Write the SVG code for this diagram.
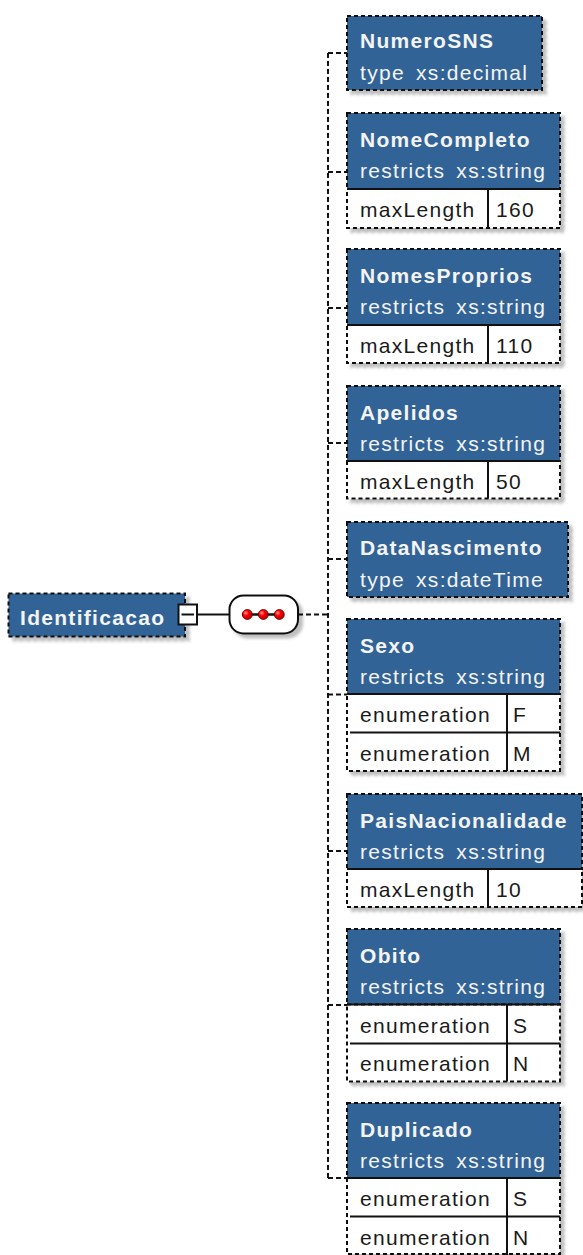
<svg xmlns="http://www.w3.org/2000/svg" width="583" height="1255" viewBox="0 0 583 1255">
<defs>
<style>
.hd{fill:#326496;stroke:#111;stroke-width:2;stroke-dasharray:4 3}
.tb{fill:#fff;stroke:#111;stroke-width:2;stroke-dasharray:4 3}
.sl{stroke:#111;stroke-width:2;fill:none}
.cn{stroke:#111;stroke-width:2;stroke-dasharray:5 3;fill:none}
.t1{font-family:"Liberation Sans",Arial,sans-serif;font-size:21px;font-weight:bold;fill:#f4f4f4;letter-spacing:1.3px}
.t2{font-family:"Liberation Sans",Arial,sans-serif;font-size:21px;fill:#f4f4f4;letter-spacing:1.3px;word-spacing:4px}
.t3{font-family:"Liberation Sans",Arial,sans-serif;font-size:21px;fill:#1a1a1a;letter-spacing:1.3px}
.dot{fill:url(#rd);stroke:#600;stroke-width:0.8}
</style>
<filter id="sh" x="-10%" y="-10%" width="130%" height="130%">
<feDropShadow dx="4" dy="4" stdDeviation="1.5" flood-color="#000" flood-opacity="0.25"/>
</filter>
<radialGradient id="rd" cx="0.35" cy="0.35" r="0.7">
<stop offset="0" stop-color="#ff9a9a"/>
<stop offset="0.4" stop-color="#ff0000"/>
<stop offset="1" stop-color="#b00000"/>
</radialGradient>
</defs>
<rect width="583" height="1255" fill="#fff"/>

<g id="connectors">
<line class="sl" x1="197" y1="614.5" x2="229.5" y2="614.5"/>
<line class="cn" x1="298" y1="614.5" x2="328" y2="614.5"/>
<line class="cn" x1="328" y1="53" x2="328" y2="1178"/>
<line class="cn" x1="328" y1="53" x2="347" y2="53"/>
<line class="cn" x1="328" y1="172" x2="347" y2="172"/>
<line class="cn" x1="328" y1="308" x2="347" y2="308"/>
<line class="cn" x1="328" y1="443" x2="347" y2="443"/>
<line class="cn" x1="328" y1="559" x2="347" y2="559"/>
<line class="cn" x1="328" y1="694.5" x2="347" y2="694.5"/>
<line class="cn" x1="328" y1="851" x2="347" y2="851"/>
<line class="cn" x1="328" y1="1005" x2="347" y2="1005"/>
<line class="cn" x1="328" y1="1178" x2="347" y2="1178"/>
</g>

<g id="Identificacao">
<rect class="hd" x="8.5" y="593.5" width="176.5" height="43" filter="url(#sh)"/>
<text class="t1" x="20" y="625">Identificacao</text>
<rect x="178.5" y="604.5" width="18.5" height="20" fill="#fff" stroke="#111" stroke-width="2"/>
<line class="sl" x1="181.5" y1="614.5" x2="194" y2="614.5"/>
</g>

<g id="sequence">
<rect x="229.5" y="595.5" width="68.5" height="38" rx="14" fill="#fff" stroke="#111" stroke-width="2" filter="url(#sh)"/>
<line x1="242" y1="614.5" x2="284" y2="614.5" stroke="#111" stroke-width="2.5"/>
<circle class="dot" cx="247.3" cy="614.5" r="5"/>
<circle class="dot" cx="263.3" cy="614.5" r="5"/>
<circle class="dot" cx="279.3" cy="614.5" r="5"/>
</g>

<g id="NumeroSNS" transform="translate(347,16)">
<rect class="hd" x="0" y="0" width="195" height="74" filter="url(#sh)"/>
<text class="t1" x="13" y="32">NumeroSNS</text>
<text class="t2" x="13" y="64">type xs:decimal</text>
</g>

<g id="NomeCompleto" transform="translate(347,113)">
<g filter="url(#sh)">
<rect class="hd" x="0" y="0" width="213" height="76"/>
<rect class="tb" x="0" y="76" width="213" height="39"/>
</g>
<line class="sl" x1="0" y1="76" x2="213" y2="76"/>
<line class="sl" x1="141" y1="76" x2="141" y2="115"/>
<text class="t1" x="13" y="33.5">NomeCompleto</text>
<text class="t2" x="13" y="65">restricts xs:string</text>
<text class="t3" x="13" y="104">maxLength</text>
<text class="t3" x="149" y="104">160</text>
</g>

<g id="NomesProprios" transform="translate(347,249)">
<g filter="url(#sh)">
<rect class="hd" x="0" y="0" width="213" height="76"/>
<rect class="tb" x="0" y="76" width="213" height="38"/>
</g>
<line class="sl" x1="0" y1="76" x2="213" y2="76"/>
<line class="sl" x1="141" y1="76" x2="141" y2="114"/>
<text class="t1" x="13" y="33.5">NomesProprios</text>
<text class="t2" x="13" y="65">restricts xs:string</text>
<text class="t3" x="13" y="104">maxLength</text>
<text class="t3" x="149" y="104">110</text>
</g>

<g id="Apelidos" transform="translate(347,386)">
<g filter="url(#sh)">
<rect class="hd" x="0" y="0" width="213" height="75"/>
<rect class="tb" x="0" y="75" width="213" height="37.5"/>
</g>
<line class="sl" x1="0" y1="75" x2="213" y2="75"/>
<line class="sl" x1="141" y1="75" x2="141" y2="112.5"/>
<text class="t1" x="13" y="33.5">Apelidos</text>
<text class="t2" x="13" y="65">restricts xs:string</text>
<text class="t3" x="13" y="103">maxLength</text>
<text class="t3" x="149" y="103">50</text>
</g>

<g id="DataNascimento" transform="translate(347,522)">
<rect class="hd" x="0" y="0" width="221" height="75" filter="url(#sh)"/>
<text class="t1" x="13" y="33">DataNascimento</text>
<text class="t2" x="13" y="64.5">type xs:dateTime</text>
</g>

<g id="Sexo" transform="translate(347,619)">
<g filter="url(#sh)">
<rect class="hd" x="0" y="0" width="213" height="75"/>
<rect class="tb" x="0" y="75" width="213" height="77"/>
</g>
<line class="sl" x1="0" y1="75" x2="213" y2="75"/>
<line class="sl" x1="3" y1="113.5" x2="213" y2="113.5"/>
<line class="sl" x1="160" y1="75" x2="160" y2="152"/>
<text class="t1" x="13" y="33.5">Sexo</text>
<text class="t2" x="13" y="65">restricts xs:string</text>
<text class="t3" x="13" y="103">enumeration</text>
<text class="t3" x="166" y="103">F</text>
<text class="t3" x="13" y="141.5">enumeration</text>
<text class="t3" x="166" y="141.5">M</text>
</g>

<g id="PaisNacionalidade" transform="translate(347,794)">
<g filter="url(#sh)">
<rect class="hd" x="0" y="0" width="235" height="75"/>
<rect class="tb" x="0" y="75" width="235" height="38"/>
</g>
<line class="sl" x1="0" y1="75" x2="235" y2="75"/>
<line class="sl" x1="141" y1="75" x2="141" y2="113"/>
<text class="t1" x="13" y="33.5">PaisNacionalidade</text>
<text class="t2" x="13" y="65">restricts xs:string</text>
<text class="t3" x="13" y="103">maxLength</text>
<text class="t3" x="149" y="103">10</text>
</g>

<g id="Obito" transform="translate(347,929)">
<g filter="url(#sh)">
<rect class="hd" x="0" y="0" width="213" height="75.5"/>
<rect class="tb" x="0" y="75.5" width="213" height="77"/>
</g>
<line class="sl" x1="0" y1="75.5" x2="213" y2="75.5"/>
<line class="sl" x1="3" y1="114.5" x2="213" y2="114.5"/>
<line class="sl" x1="160" y1="75.5" x2="160" y2="152.5"/>
<text class="t1" x="13" y="33.5">Obito</text>
<text class="t2" x="13" y="65">restricts xs:string</text>
<text class="t3" x="13" y="103.5">enumeration</text>
<text class="t3" x="166" y="103.5">S</text>
<text class="t3" x="13" y="142">enumeration</text>
<text class="t3" x="166" y="142">N</text>
</g>

<g id="Duplicado" transform="translate(347,1103)">
<g filter="url(#sh)">
<rect class="hd" x="0" y="0" width="213" height="75"/>
<rect class="tb" x="0" y="75" width="213" height="76"/>
</g>
<line class="sl" x1="0" y1="75" x2="213" y2="75"/>
<line class="sl" x1="3" y1="113.5" x2="213" y2="113.5"/>
<line class="sl" x1="160" y1="75" x2="160" y2="152"/>
<text class="t1" x="13" y="33.5">Duplicado</text>
<text class="t2" x="13" y="65">restricts xs:string</text>
<text class="t3" x="13" y="103">enumeration</text>
<text class="t3" x="166" y="103">S</text>
<text class="t3" x="13" y="141.5">enumeration</text>
<text class="t3" x="166" y="141.5">N</text>
</g>
</svg>
